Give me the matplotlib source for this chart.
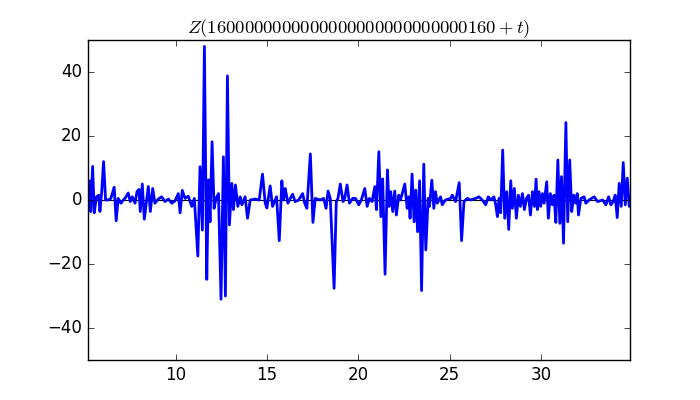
import numpy as np
import matplotlib
matplotlib.use('Agg')
import matplotlib.pyplot as plt

plt.style.use('classic')

# values (local extrema of Z)
t = [5.17, 5.28, 5.35, 5.45, 5.54, 5.66, 5.79, 5.85, 5.94, 6.05,
     6.16, 6.30, 6.45, 6.63, 6.74, 6.85, 7.00, 7.13, 7.22, 7.40,
     7.51, 7.62, 7.77, 7.88, 7.99, 8.06, 8.17, 8.28, 8.50, 8.61,
     8.74, 8.86, 9.05, 9.23, 9.41, 9.60, 9.78, 9.96, 10.14, 10.24,
     10.36, 10.51, 10.69, 10.88, 11.02, 11.21, 11.33, 11.46, 11.57, 11.70,
     11.79, 11.88, 11.99, 12.10, 12.21, 12.34, 12.48, 12.61, 12.72, 12.83,
     12.94, 13.07, 13.16, 13.27, 13.40, 13.53, 13.62, 13.80, 13.93, 14.08,
     14.35, 14.57, 14.75, 14.90, 14.99, 15.17, 15.30, 15.45, 15.52, 15.67,
     15.81, 15.90, 16.00, 16.14, 16.27, 16.40, 16.54, 16.73, 16.95, 17.06,
     17.18, 17.37, 17.51, 17.64, 17.92, 18.10, 18.23, 18.34, 18.46, 18.67,
     18.79, 18.88, 19.01, 19.16, 19.25, 19.38, 19.51, 19.69, 19.84, 20.02,
     20.16, 20.35, 20.48, 20.60, 20.75, 20.90, 20.99, 21.12, 21.23, 21.33,
     21.46, 21.59, 21.68, 21.77, 21.88, 21.99, 22.08, 22.21, 22.30, 22.40,
     22.54, 22.67, 22.76, 22.83, 22.94, 23.05, 23.14, 23.24, 23.35, 23.46,
     23.58, 23.69, 23.82, 23.89, 24.02, 24.13, 24.22, 24.32, 24.50, 24.59,
     24.77, 25.05, 25.14, 25.32, 25.52, 25.65, 25.78, 25.96, 26.14, 26.42,
     26.60, 26.78, 26.97, 27.11, 27.24, 27.42, 27.52, 27.61, 27.70, 27.79,
     27.90, 28.01, 28.12, 28.23, 28.34, 28.43, 28.54, 28.65, 28.76, 28.87,
     28.98, 29.09, 29.20, 29.31, 29.42, 29.53, 29.64, 29.73, 29.80, 29.89,
     29.98, 30.08, 30.17, 30.31, 30.40, 30.51, 30.62, 30.71, 30.81, 30.92,
     31.03, 31.12, 31.23, 31.36, 31.46, 31.57, 31.68, 31.79, 31.90, 31.98,
     32.05, 32.18, 32.36, 32.45, 32.63, 32.91, 33.09, 33.37, 33.55, 33.70,
     33.82, 33.95, 34.06, 34.17, 34.28, 34.39, 34.50, 34.61, 34.72, 34.83,
     34.87]
z = [-5.0, 6.0, -3.6, 10.5, -4.0, 1.0, 1.5, -3.6, 2.0, 12.0,
     0.0, 0.0, 0.5, 4.0, -6.5, 0.5, -1.0, 0.0, 0.5, 2.2,
     -0.5, 1.0, -1.0, 2.6, 3.3, -3.6, 5.0, -6.0, 4.2, -3.6,
     3.6, -1.0, 0.3, 1.0, -0.5, 0.3, -1.0, -0.3, 2.0, -4.0,
     3.0, 0.5, 1.2, -2.0, 0.5, -17.5, 10.4, -9.4, 48.0, -24.8,
     6.3, -6.8, 18.2, -2.6, 0.5, 2.0, -31.0, 13.5, -30.0, 38.8,
     -7.8, 5.2, -3.0, 4.7, -2.0, 1.0, -1.5, 1.0, -5.7, 0.0,
     0.3, 0.0, 8.1, -1.0, -2.5, 4.4, -2.0, 0.0, 1.0, -12.7,
     6.0, 0.0, 3.6, -1.0, 0.5, 1.8, -0.5, 0.0, 2.0, -1.0,
     -2.6, 14.4, -7.0, 0.5, 0.0, 0.5, -2.6, 2.8, 0.5, -27.6,
     -0.5, 0.5, 5.0, -0.5, 0.5, 4.7, -1.0, 0.5, 0.5, -1.5,
     0.0, 3.6, -2.0, 0.5, -0.5, 4.2, -3.0, 15.1, -5.2, 6.6,
     -23.2, 9.4, -2.0, 2.6, -3.6, 2.8, -4.7, 1.5, 0.0, 2.0,
     5.0, -2.6, 1.0, -5.7, 8.1, -6.8, 3.1, -9.9, 6.0, -28.3,
     11.2, -15.6, 0.5, -2.0, 6.2, -2.6, 2.6, -1.0, 1.0, -1.5,
     0.0, 0.5, 1.5, -0.5, 5.4, -12.7, -0.5, 0.5, 0.0, 0.5,
     1.0, 0.0, -1.5, 1.0, 0.0, 1.0, -1.5, -5.2, 0.5, -4.0,
     15.6, -5.7, 2.6, -9.2, 6.0, -2.6, 3.6, -5.7, 1.5, -2.0,
     2.0, -3.0, 0.5, 1.5, -4.7, 2.6, -2.0, 6.5, -3.0, 2.6,
     -2.0, 2.0, -1.0, 5.7, -5.7, 2.0, -1.5, 1.5, -7.0, 12.5,
     -7.3, 7.3, -13.5, 24.2, -6.8, 12.5, -3.6, 1.5, -1.0, 2.0,
     -4.7, 0.5, 1.0, -1.0, 0.0, 1.0, -0.5, 0.0, -1.5, 1.0,
     -1.5, -0.5, 1.5, -5.5, 5.2, -2.0, 11.7, -1.5, 6.8, -2.0,
     0.0]

height = '16' + '0' * 26 + '160'

fig = plt.figure(figsize=(7, 4), dpi=100)
ax = fig.add_subplot(111)
ax.axhline(0, color='k', linewidth=0.8, zorder=1)
ax.plot(t, z, 'b-', linewidth=2, zorder=2)
ax.set_xlim(5.17, 34.87)
ax.set_ylim(-50, 50)
ax.set_yticks([-40, -20, 0, 20, 40])
ax.set_xticks([10, 15, 20, 25, 30])
ax.set_title(r'$Z(' + height + r'+t)$', fontsize=13.4)

fig.savefig('out.png', dpi=100, facecolor='white')
